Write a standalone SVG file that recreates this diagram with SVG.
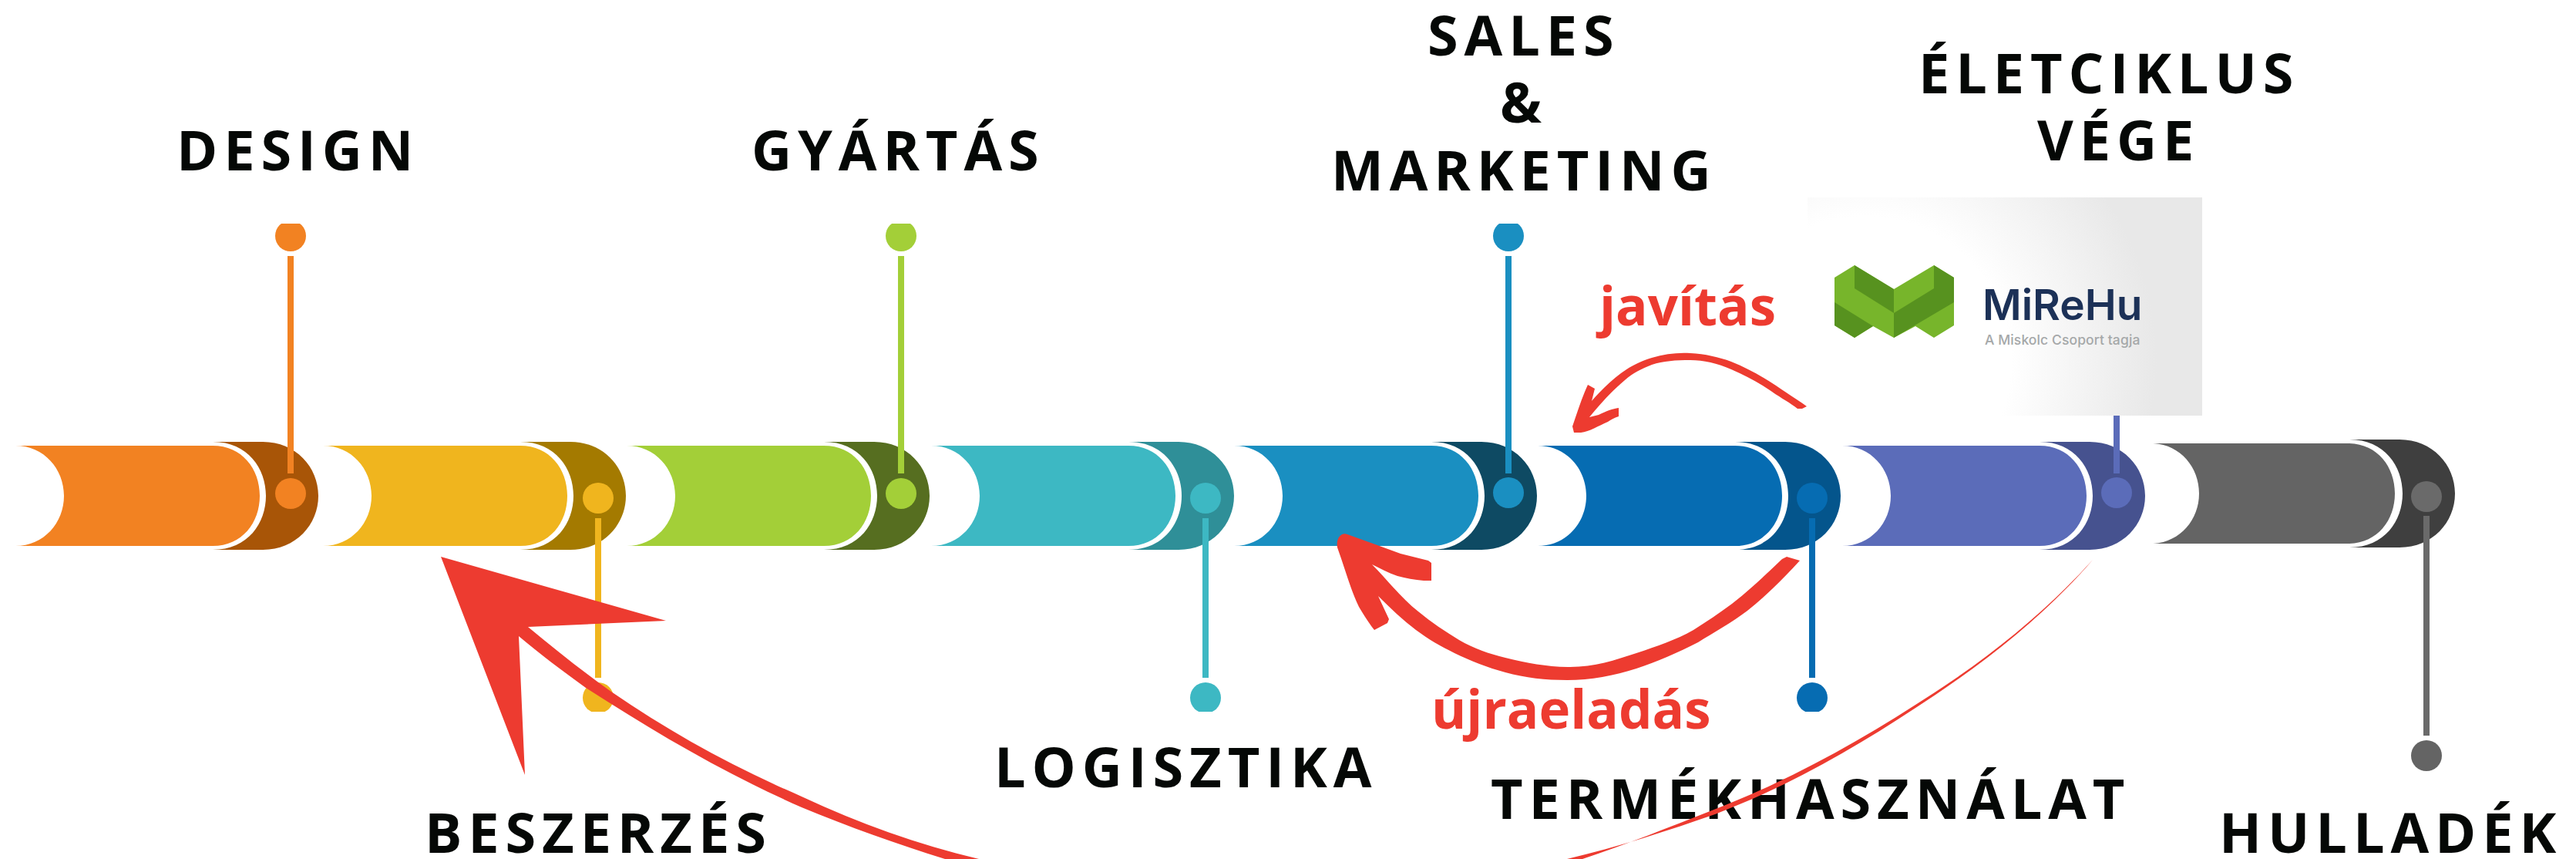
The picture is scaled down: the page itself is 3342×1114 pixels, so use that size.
<svg xmlns="http://www.w3.org/2000/svg" width="3342" height="1114" viewBox="0 0 3342 1114">
<style>
.lbl{font-family:"Open Sans","Liberation Sans",sans-serif;font-weight:700;font-size:72px;letter-spacing:7.9px;fill:#050806}
.red{font-family:"Open Sans","Liberation Sans",sans-serif;font-weight:700;font-size:69px;fill:#ED3B30}
.arrow{fill:#ED3B30;stroke:none}
.s1{fill:#F28222}.d1{fill:#A85507}
.s2{fill:#F0B51E}.d2{fill:#A47A00}
.s3{fill:#A3CF38}.d3{fill:#566E20}
.s4{fill:#3DB8C3}.d4{fill:#2F8F98}
.s5{fill:#1A8FC1}.d5{fill:#0E4A63}
.s6{fill:#066CB2}.d6{fill:#04558C}
.s7{fill:#5B6CB9}.d7{fill:#46528F}
.s8{fill:#646464}.d8{fill:#3F3F3F}
</style>
<defs>
<path id="body" d="M-4,0 C33,0 59,30 59,65 C59,100 33,130 -4,130 H252 C290,130 313,100 313,65 C313,30 290,0 252,0 Z"/>
<path id="ring" d="M252,-5 H317 C360,-5 389,28 389,65 C389,102 360,135 317,135 H252 C298,135 321,100 321,65 C321,30 298,-5 252,-5 Z"/>
<circle id="dot" r="20"/>
<clipPath id="clipTop"><rect x="0" y="290" width="3342" height="60"/></clipPath>
<clipPath id="clipBottom"><rect x="0" y="860" width="3342" height="63"/></clipPath>
<radialGradient id="logoBg" gradientUnits="userSpaceOnUse" cx="2420" cy="470" r="420">
<stop offset="0.45" stop-color="#FFFFFF"/><stop offset="0.9" stop-color="#E8E8E8"/><stop offset="1" stop-color="#E8E8E8"/>
</radialGradient>
</defs>

<g id="node-design">
<use href="#body" x="24" y="578" class="s1"/><use href="#ring" x="24" y="578" class="d1"/>
<rect x="373" y="332" width="8" height="282" class="s1"/>
<use href="#dot" x="377" y="640" class="s1"/>
<g clip-path="url(#clipTop)"><use href="#dot" x="377" y="306" class="s1"/></g>
<text class="lbl" x="229" y="221">DESIGN</text>
</g>
<g id="node-beszerzes">
<use href="#body" x="423" y="578" class="s2"/><use href="#ring" x="423" y="578" class="d2"/>
<rect x="772" y="672" width="8" height="207" class="s2"/>
<use href="#dot" x="776" y="646" class="s2"/>
<g clip-path="url(#clipBottom)"><use href="#dot" x="776" y="905" class="s2"/></g>
<text class="lbl" x="551" y="1106">BESZERZÉS</text>
</g>
<g id="node-gyartas">
<use href="#body" x="817" y="578" class="s3"/><use href="#ring" x="817" y="578" class="d3"/>
<rect x="1165" y="332" width="8" height="282" class="s3"/>
<use href="#dot" x="1169" y="640" class="s3"/>
<g clip-path="url(#clipTop)"><use href="#dot" x="1169" y="306" class="s3"/></g>
<text class="lbl" x="975" y="221">GYÁRTÁS</text>
</g>
<g id="node-logisztika">
<use href="#body" x="1212" y="578" class="s4"/><use href="#ring" x="1212" y="578" class="d4"/>
<rect x="1560" y="672" width="8" height="207" class="s4"/>
<use href="#dot" x="1564" y="646" class="s4"/>
<g clip-path="url(#clipBottom)"><use href="#dot" x="1564" y="905" class="s4"/></g>
<text class="lbl" x="1290" y="1021">LOGISZTIKA</text>
</g>
<g id="node-sales">
<use href="#body" x="1605" y="578" class="s5"/><use href="#ring" x="1605" y="578" class="d5"/>
<rect x="1953" y="332" width="8" height="282" class="s5"/>
<use href="#dot" x="1957" y="639" class="s5"/>
<g clip-path="url(#clipTop)"><use href="#dot" x="1957" y="306" class="s5"/></g>
<text class="lbl" x="1852" y="72">SALES</text>
<text class="lbl" x="1946" y="159">&amp;</text>
<text class="lbl" x="1727" y="247">MARKETING</text>
</g>
<g id="node-termekhasznalat">
<use href="#body" x="1999" y="578" class="s6"/><use href="#ring" x="1999" y="578" class="d6"/>
<rect x="2347" y="672" width="8" height="207" class="s6"/>
<use href="#dot" x="2351" y="646" class="s6"/>
<g clip-path="url(#clipBottom)"><use href="#dot" x="2351" y="905" class="s6"/></g>
<text class="lbl" x="1934" y="1062">TERMÉKHASZNÁLAT</text>
</g>
<g id="node-eletciklus">
<use href="#body" x="2394" y="578" class="s7"/><use href="#ring" x="2394" y="578" class="d7"/>
<rect x="2742" y="539" width="8" height="75" class="s7"/>
<use href="#dot" x="2746" y="639" class="s7"/>
<text class="lbl" x="2489" y="121">ÉLETCIKLUS</text>
<text class="lbl" x="2643" y="208">VÉGE</text>
</g>
<g id="node-hulladek">
<use href="#body" x="2794" y="575" class="s8"/><use href="#ring" x="2796" y="575" class="d8"/>
<rect x="3144" y="669" width="8" height="285" fill="#6A6A6A"/>
<use href="#dot" x="3148" y="644" fill="#6A6A6A"/>
<use href="#dot" x="3148" y="980" class="s8"/>
<text class="lbl" x="2879" y="1106">HULLADÉK</text>
</g>

<g id="node-logo">
<rect x="2345" y="256" width="512" height="283" fill="url(#logoBg)"/>
<polygon points="2380,360 2406,344 2457,375 2509,344 2535,360 2535,422 2509,438 2485,423 2457,438 2430,423 2406,438 2380,422" fill="#77B52B"/>
<polygon points="2406,344 2457,375 2457,406 2406,374" fill="#57921F"/>
<polygon points="2509,344 2535,360 2535,392 2457,438 2457,406 2509,374" fill="#57921F"/>
<polygon points="2380,392 2430,423 2406,438 2380,422" fill="#57921F"/>
<text x="2572" y="415" font-family="Inter, sans-serif" font-weight="600" font-size="55" fill="#1C3157">MiReHu</text>
<text x="2575" y="447" font-family="Inter, sans-serif" font-weight="500" font-size="17.5" letter-spacing="0.1" fill="#A5A8A9">A Miskolc Csoport tagja</text>
</g>

<g id="connectors">
<path id="arrow-javitas" class="arrow" d="M2065,520 C2078,505 2090,494 2103,484 C2118,473 2130,468 2143,464 C2160,459 2176,457 2193,458 C2212,459 2230,463 2246,469 C2268,478 2286,488 2304,500 C2320,511 2333,519 2344,527 L2338,530 L2332,530 C2322,522 2310,516 2296,506 C2280,495 2264,487 2246,479 C2228,471 2210,467 2193,467 C2174,467 2158,468 2143,473 C2130,478 2118,484 2108,493 C2090,508 2076,524 2062,541 L2074,538 C2084,533 2092,530 2100,529 L2100,540 C2094,542 2090,544 2086,547 C2074,552 2062,560 2051,561 L2042,561 L2040,553 C2046,536 2052,516 2060,499 L2069,504 Z"/>
<path id="arrow-ujraeladas" class="arrow" d="M1748,693 L1817,718 L1853,727 L1857,730 L1857,753 L1847,753 C1835,752 1824,750 1813,747 C1801,743 1791,737 1780,732 C1800,752 1818,776 1840,793 C1857,807 1875,819 1893,830 C1912,841 1932,848 1953,853 C1982,860 2008,865 2037,865 C2068,865 2096,856 2123,847 C2150,838 2174,830 2197,817 C2214,806 2231,795 2247,783 C2270,765 2290,746 2312,725 L2318,722 L2335,727 C2314,750 2292,772 2267,792 C2247,807 2224,820 2203,833 C2178,846 2150,858 2123,867 C2094,876 2064,882 2033,882 C2005,882 1979,879 1953,872 C1930,866 1908,857 1887,847 C1869,838 1853,829 1837,817 C1820,804 1804,789 1788,773 L1802,803 L1800,808 L1783,817 C1775,807 1769,797 1763,787 C1751,762 1745,737 1735,710 C1733,698 1740,690 1748,693 Z"/>
<path id="arrow-big" class="arrow" d="M572,722 L864,805 L685,813 C720,842 755,870 793,897 C870,950 950,994 1040,1033 C1115,1068 1190,1095 1270,1114 L1226,1114 C1165,1095 1100,1072 1040,1047 C940,1003 850,950 760,892 C730,870 700,848 673,825 L681,1005 Z"/>
<path id="arrow-thin" class="arrow" d="M2033,1114 C2100,1098 2165,1077 2225,1056 C2330,1016 2420,962 2511,901 C2590,848 2660,790 2715,726 C2659,788 2590,846 2510,898 C2420,957 2325,1011 2221,1051 C2165,1073 2110,1095 2053,1114 Z"/>
</g>
<text class="red" x="2075" y="422">javítás</text>
<text class="red" x="1857" y="945">újraeladás</text>
</svg>
